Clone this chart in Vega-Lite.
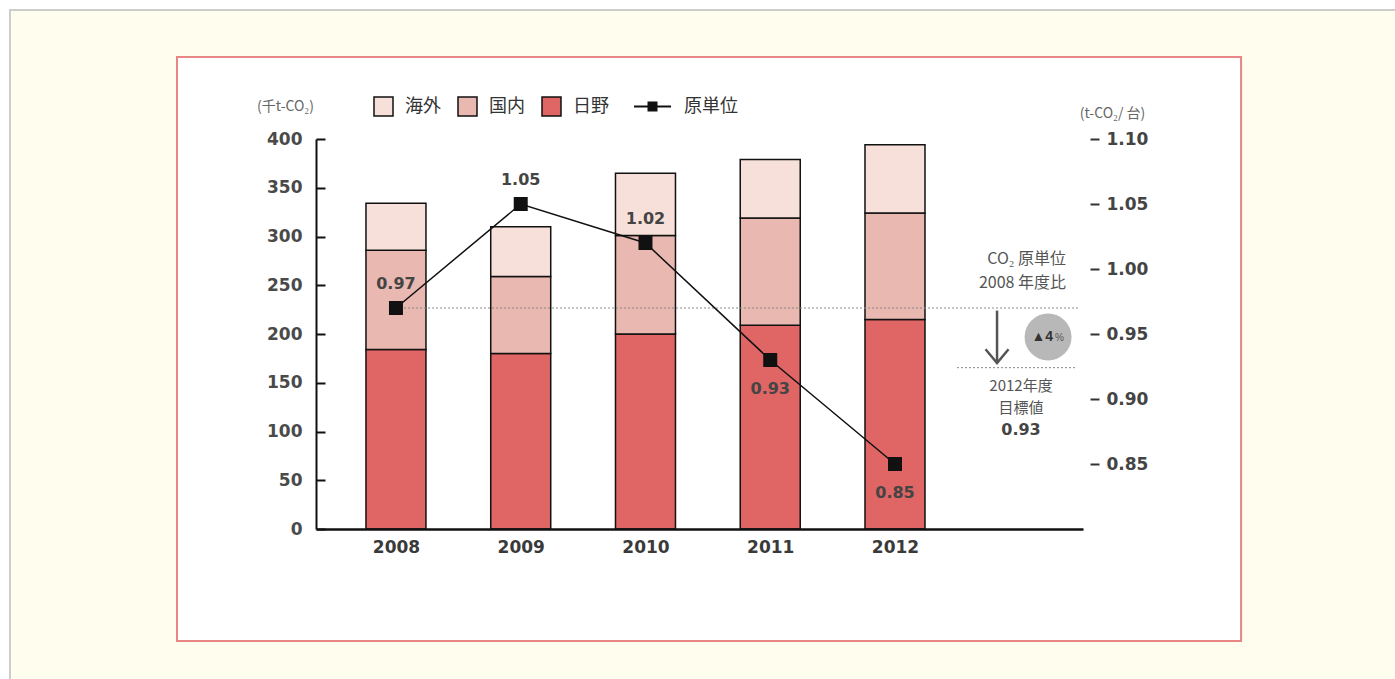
{
  "$schema": "https://vega.github.io/schema/vega-lite/v6.json",
  "width": 767,
  "height": 390,
  "autosize": "none",
  "padding": {"left": 316, "top": 139, "right": 312, "bottom": 150},
  "background": "white",
  "config": {"view": {"stroke": null}, "font": "Liberation Sans"},
  "datasets": {
    "one": [{}],
    "bars": [
      {"year": 2008, "type": "日野", "value": 184},
      {"year": 2008, "type": "国内", "value": 102},
      {"year": 2008, "type": "海外", "value": 48},
      {"year": 2009, "type": "日野", "value": 180},
      {"year": 2009, "type": "国内", "value": 79},
      {"year": 2009, "type": "海外", "value": 51},
      {"year": 2010, "type": "日野", "value": 200},
      {"year": 2010, "type": "国内", "value": 101},
      {"year": 2010, "type": "海外", "value": 64},
      {"year": 2011, "type": "日野", "value": 209},
      {"year": 2011, "type": "国内", "value": 110},
      {"year": 2011, "type": "海外", "value": 60},
      {"year": 2012, "type": "日野", "value": 215},
      {"year": 2012, "type": "国内", "value": 109},
      {"year": 2012, "type": "海外", "value": 70}
    ],
    "unit": [
      {"year": 2008, "value": 0.97, "label": "0.97"},
      {"year": 2009, "value": 1.05, "label": "1.05"},
      {"year": 2010, "value": 1.02, "label": "1.02"},
      {"year": 2011, "value": 0.93, "label": "0.93"},
      {"year": 2012, "value": 0.85, "label": "0.85"}
    ]
  },
  "resolve": {"scale": {"y": "independent"}, "axis": {"y": "independent"}},
  "layer": [
    {
      "layer": [
        {
          "data": {"name": "one"},
          "mark": {"type": "rect", "fill": "#FFFDEE", "stroke": "#CDCDCD", "strokeWidth": 2, "clip": false},
          "encoding": {
            "x": {"datum": 2004.906, "type": "quantitative", "scale": {"domain": [2007.359, 2013.507], "nice": false, "zero": false, "padding": 0}, "title": null},
            "x2": {"datum": 2030},
            "y": {"datum": 532.3, "type": "quantitative", "scale": {"domain": [0, 400], "nice": false}, "title": "(千t-CO₂)"},
            "y2": {"datum": -400}
          }
        },
        {
          "data": {"name": "one"},
          "mark": {"type": "rect", "fill": "white", "stroke": "#E88585", "strokeWidth": 2, "clip": false},
          "encoding": {
            "x": {"datum": 2006.245, "type": "quantitative", "scale": {"domain": [2007.359, 2013.507], "nice": false, "zero": false, "padding": 0}, "title": null},
            "x2": {"datum": 2014.774},
            "y": {"datum": 484.1, "type": "quantitative", "scale": {"domain": [0, 400], "nice": false}, "title": "(千t-CO₂)"},
            "y2": {"datum": -114.9}
          }
        },
        {
          "data": {"name": "bars"},
          "transform": [{"calculate": "indexof(['日野','国内','海外'], datum.type)", "as": "ord"}],
          "mark": {"type": "bar", "size": 60, "stroke": "#111", "strokeWidth": 1.5},
          "encoding": {
            "x": {
              "field": "year", "type": "quantitative",
              "scale": {"domain": [2007.359, 2013.507], "nice": false, "zero": false, "padding": 0},
              "title": null,
              "axis": {
                "zindex": 2,
                "values": [2008, 2009, 2010, 2011, 2012], "format": "d", "ticks": false,
                "grid": false, "domainColor": "#111", "domainWidth": 2.5, "labelPadding": 10,
                "labelFont": "DejaVu Sans", "labelFontSize": 17, "labelFontWeight": "bold", "labelColor": "#3a3a3a", "title": null
              }
            },
            "y": {
              "field": "value", "type": "quantitative", "stack": "zero",
              "scale": {"domain": [0, 400], "nice": false},
              "title": "(千t-CO₂)",
              "axis": {
                "zindex": 2,
                "values": [0, 50, 100, 150, 200, 250, 300, 350, 400], "grid": false,
                "domainColor": "#111", "domainWidth": 2, "tickColor": "#111", "tickWidth": 2,
                "tickSize": -9, "labelPadding": 23, "labelFont": "DejaVu Sans", "labelFontSize": 17, "labelFontWeight": "bold",
                "labelColor": "#4a4a4a",
                "title": "(千t-CO₂)", "titleAngle": 0, "titleX": -31, "titleY": -33,
                "titleAlign": "center", "titleBaseline": "middle", "titleFontSize": 14,
                "titleFontWeight": "normal", "titleColor": "#666", "titleFont": "Noto Sans CJK JP"
              }
            },
            "fill": {
              "field": "type", "type": "nominal",
              "scale": {"domain": ["海外", "国内", "日野"], "range": ["#F8E0DA", "#E9B8B0", "#E06565"]},
              "legend": {
                "orient": "none", "direction": "horizontal", "legendX": 57, "legendY": -43,
                "title": null, "symbolType": "square", "symbolSize": 361,
                "symbolStrokeColor": "#111", "symbolStrokeWidth": 1.5, "symbolOpacity": 1,
                "labelFontSize": 18, "labelFont": "Noto Sans CJK JP", "labelColor": "#333",
                "labelOffset": 11, "columnPadding": 14, "padding": 0
              }
            },
            "order": {"field": "ord", "type": "quantitative"}
          }
        }
      ]
    },
    {
      "layer": [
        {
          "data": {"name": "one"},
          "mark": {"type": "rule", "strokeDash": [2, 2], "color": "#888", "strokeWidth": 1},
          "encoding": {
            "x": {"datum": 2008, "type": "quantitative", "scale": {"domain": [2007.359, 2013.507], "nice": false, "zero": false, "padding": 0}, "title": null},
            "x2": {"datum": 2013.48},
            "y": {"datum": 0.97, "type": "quantitative", "scale": {"domain": [0.8, 1.1], "nice": false, "zero": false}, "title": "(t-CO₂/ 台)"}
          }
        },
        {
          "data": {"name": "one"},
          "mark": {"type": "rule", "strokeDash": [2, 2], "color": "#888", "strokeWidth": 1},
          "encoding": {
            "x": {"datum": 2012.497, "type": "quantitative", "scale": {"domain": [2007.359, 2013.507], "nice": false, "zero": false, "padding": 0}, "title": null},
            "x2": {"datum": 2013.459},
            "y": {"datum": 0.9241, "type": "quantitative", "scale": {"domain": [0.8, 1.1], "nice": false, "zero": false}, "title": "(t-CO₂/ 台)"}
          }
        },
        {
          "data": {"name": "one"},
          "mark": {"type": "rule", "color": "#555", "strokeWidth": 2.5},
          "encoding": {
            "x": {"datum": 2012.818, "type": "quantitative", "scale": {"domain": [2007.359, 2013.507], "nice": false, "zero": false, "padding": 0}, "title": null},
            "y": {"datum": 0.968, "type": "quantitative", "scale": {"domain": [0.8, 1.1], "nice": false, "zero": false}, "title": "(t-CO₂/ 台)"},
            "y2": {"datum": 0.9277}
          }
        },
        {
          "data": {"name": "one"},
          "mark": {"type": "point", "shape": "M-1,-1.2L0,0L1,-1.2", "filled": false, "stroke": "#555", "strokeWidth": 2.5, "size": 529, "opacity": 1},
          "encoding": {
            "x": {"datum": 2012.818, "type": "quantitative", "scale": {"domain": [2007.359, 2013.507], "nice": false, "zero": false, "padding": 0}, "title": null},
            "y": {"datum": 0.9277, "type": "quantitative", "scale": {"domain": [0.8, 1.1], "nice": false, "zero": false}, "title": "(t-CO₂/ 台)"}
          }
        },
        {
          "data": {"name": "one"},
          "mark": {"type": "point", "shape": "circle", "filled": true, "color": "#B8B8B8", "size": 2206, "opacity": 1},
          "encoding": {
            "x": {"datum": 2013.227, "type": "quantitative", "scale": {"domain": [2007.359, 2013.507], "nice": false, "zero": false, "padding": 0}, "title": null},
            "y": {"datum": 0.9477, "type": "quantitative", "scale": {"domain": [0.8, 1.1], "nice": false, "zero": false}, "title": "(t-CO₂/ 台)"}
          }
        },
        {
          "data": {"name": "one"},
          "mark": {"type": "text", "text": "▲4", "align": "right", "baseline": "middle", "fontSize": 14, "fontWeight": "bold", "color": "#333"},
          "encoding": {
            "x": {"datum": 2013.267, "type": "quantitative", "scale": {"domain": [2007.359, 2013.507], "nice": false, "zero": false, "padding": 0}, "title": null},
            "y": {"datum": 0.9477, "type": "quantitative", "scale": {"domain": [0.8, 1.1], "nice": false, "zero": false}, "title": "(t-CO₂/ 台)"}
          }
        },
        {
          "data": {"name": "one"},
          "mark": {"type": "text", "text": "%", "align": "left", "baseline": "middle", "dy": 1, "fontSize": 10, "color": "#555"},
          "encoding": {
            "x": {"datum": 2013.283, "type": "quantitative", "scale": {"domain": [2007.359, 2013.507], "nice": false, "zero": false, "padding": 0}, "title": null},
            "y": {"datum": 0.9477, "type": "quantitative", "scale": {"domain": [0.8, 1.1], "nice": false, "zero": false}, "title": "(t-CO₂/ 台)"}
          }
        },
        {
          "data": {"name": "one"},
          "mark": {"type": "text", "text": "CO₂ 原単位", "align": "right", "baseline": "middle", "fontSize": 16, "font": "Noto Sans CJK JP", "color": "#555"},
          "encoding": {
            "x": {"datum": 2013.371, "type": "quantitative", "scale": {"domain": [2007.359, 2013.507], "nice": false, "zero": false, "padding": 0}, "title": null},
            "y": {"datum": 1.0077, "type": "quantitative", "scale": {"domain": [0.8, 1.1], "nice": false, "zero": false}, "title": "(t-CO₂/ 台)"}
          }
        },
        {
          "data": {"name": "one"},
          "mark": {"type": "text", "text": "2008 年度比", "align": "right", "baseline": "middle", "fontSize": 16, "font": "Noto Sans CJK JP", "color": "#555"},
          "encoding": {
            "x": {"datum": 2013.371, "type": "quantitative", "scale": {"domain": [2007.359, 2013.507], "nice": false, "zero": false, "padding": 0}, "title": null},
            "y": {"datum": 0.9892, "type": "quantitative", "scale": {"domain": [0.8, 1.1], "nice": false, "zero": false}, "title": "(t-CO₂/ 台)"}
          }
        },
        {
          "data": {"name": "one"},
          "mark": {"type": "text", "text": "2012年度", "align": "center", "baseline": "middle", "fontSize": 15, "font": "Noto Sans CJK JP", "color": "#555"},
          "encoding": {
            "x": {"datum": 2013.01, "type": "quantitative", "scale": {"domain": [2007.359, 2013.507], "nice": false, "zero": false, "padding": 0}, "title": null},
            "y": {"datum": 0.91, "type": "quantitative", "scale": {"domain": [0.8, 1.1], "nice": false, "zero": false}, "title": "(t-CO₂/ 台)"}
          }
        },
        {
          "data": {"name": "one"},
          "mark": {"type": "text", "text": "目標値", "align": "center", "baseline": "middle", "fontSize": 15, "font": "Noto Sans CJK JP", "color": "#555"},
          "encoding": {
            "x": {"datum": 2013.01, "type": "quantitative", "scale": {"domain": [2007.359, 2013.507], "nice": false, "zero": false, "padding": 0}, "title": null},
            "y": {"datum": 0.8931, "type": "quantitative", "scale": {"domain": [0.8, 1.1], "nice": false, "zero": false}, "title": "(t-CO₂/ 台)"}
          }
        },
        {
          "data": {"name": "one"},
          "mark": {"type": "text", "text": "0.93", "align": "center", "baseline": "middle", "font": "DejaVu Sans", "fontSize": 16, "fontWeight": "bold", "color": "#444"},
          "encoding": {
            "x": {"datum": 2013.01, "type": "quantitative", "scale": {"domain": [2007.359, 2013.507], "nice": false, "zero": false, "padding": 0}, "title": null},
            "y": {"datum": 0.876, "type": "quantitative", "scale": {"domain": [0.8, 1.1], "nice": false, "zero": false}, "title": "(t-CO₂/ 台)"}
          }
        },
        {
          "data": {"name": "unit"},
          "mark": {"type": "line", "color": "#111", "strokeWidth": 1.5},
          "encoding": {
            "x": {"field": "year", "type": "quantitative", "scale": {"domain": [2007.359, 2013.507], "nice": false, "zero": false, "padding": 0}, "title": null},
            "y": {
              "field": "value", "type": "quantitative",
              "scale": {"domain": [0.8, 1.1], "nice": false, "zero": false},
              "title": "(t-CO₂/ 台)",
              "axis": {
                "zindex": 2,
                "orient": "right", "values": [0.85, 0.9, 0.95, 1.0, 1.05, 1.1], "format": ".2f",
                "domain": false, "grid": false, "offset": 7, "tickSize": 9, "tickWidth": 2,
                "tickColor": "#333", "labelPadding": 7, "labelFont": "DejaVu Sans", "labelFontSize": 17, "labelFontWeight": "bold",
                "labelColor": "#444",
                "title": "(t-CO₂/ 台)", "titleAngle": 0, "titleX": 22, "titleY": -26,
                "titleAlign": "center", "titleBaseline": "middle", "titleFontSize": 14,
                "titleFontWeight": "normal", "titleColor": "#666", "titleFont": "Noto Sans CJK JP"
              }
            }
          }
        },
        {
          "data": {"name": "unit"},
          "mark": {"type": "point", "shape": "square", "filled": true, "size": 196, "opacity": 1},
          "encoding": {
            "x": {"field": "year", "type": "quantitative", "scale": {"domain": [2007.359, 2013.507], "nice": false, "zero": false, "padding": 0}, "title": null},
            "y": {"field": "value", "type": "quantitative", "scale": {"domain": [0.8, 1.1], "nice": false, "zero": false}, "title": "(t-CO₂/ 台)"},
            "color": {
              "datum": "原単位", "type": "nominal",
              "scale": {"range": ["#111"]},
              "legend": {
                "orient": "none", "legendX": 317, "legendY": -52, "title": null,
                "symbolType": "M-1,-0.06L1,-0.06L1,0.06L-1,0.06ZM-0.27,-0.27L0.27,-0.27L0.27,0.27L-0.27,0.27Z",
                "symbolSize": 1369, "symbolOpacity": 1,
                "labelFontSize": 18, "labelFont": "Noto Sans CJK JP", "labelColor": "#333",
                "labelOffset": 12, "padding": 0
              }
            }
          }
        },
        {
          "data": {"name": "unit"},
          "transform": [{"filter": "datum.year <= 2010"}],
          "mark": {"type": "text", "dy": -24, "baseline": "middle", "font": "DejaVu Sans", "fontSize": 16, "fontWeight": "bold", "color": "#444"},
          "encoding": {
            "x": {"field": "year", "type": "quantitative", "scale": {"domain": [2007.359, 2013.507], "nice": false, "zero": false, "padding": 0}, "title": null},
            "y": {"field": "value", "type": "quantitative", "scale": {"domain": [0.8, 1.1], "nice": false, "zero": false}, "title": "(t-CO₂/ 台)"},
            "text": {"field": "label"}
          }
        },
        {
          "data": {"name": "unit"},
          "transform": [{"filter": "datum.year > 2010"}],
          "mark": {"type": "text", "dy": 29, "baseline": "middle", "font": "DejaVu Sans", "fontSize": 16, "fontWeight": "bold", "color": "#444"},
          "encoding": {
            "x": {"field": "year", "type": "quantitative", "scale": {"domain": [2007.359, 2013.507], "nice": false, "zero": false, "padding": 0}, "title": null},
            "y": {"field": "value", "type": "quantitative", "scale": {"domain": [0.8, 1.1], "nice": false, "zero": false}, "title": "(t-CO₂/ 台)"},
            "text": {"field": "label"}
          }
        }
      ]
    }
  ]
}
